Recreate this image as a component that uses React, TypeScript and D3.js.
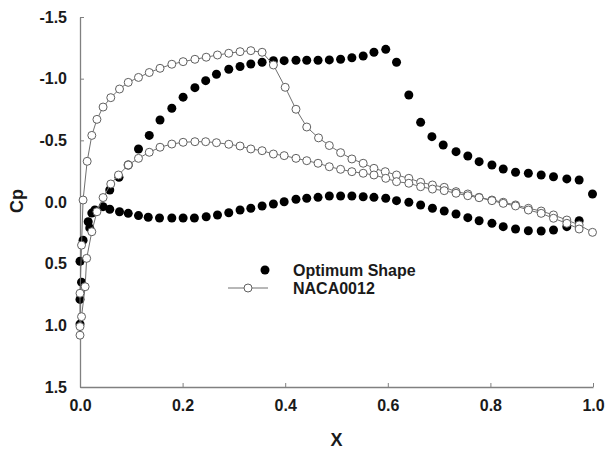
import { useEffect, useRef } from "react";
import * as d3 from "d3";

// Optimum shape, x / Cp pairs (scatter only)
const optimumX = [
  0.0, 0.0, 0.003, 0.0, 0.006, 0.016, 0.019, 0.023, 0.029, 0.045, 0.058, 0.077,
  0.094, 0.114, 0.133, 0.155, 0.179, 0.201, 0.223, 0.246, 0.268, 0.29, 0.312,
  0.333, 0.355, 0.377, 0.398, 0.421, 0.442, 0.464, 0.486, 0.508, 0.53, 0.552,
  0.573, 0.596, 0.617, 0.641, 0.664, 0.687, 0.71, 0.733, 0.756, 0.778, 0.803,
  0.825, 0.849, 0.874, 0.899, 0.923, 0.949, 0.973,
  0.058, 0.076, 0.094, 0.114, 0.135, 0.156, 0.179, 0.201, 0.224, 0.245, 0.266,
  0.29, 0.312, 0.333, 0.355, 0.377, 0.398, 0.421, 0.442, 0.464, 0.486, 0.508,
  0.53, 0.552, 0.573, 0.596, 0.617, 0.641, 0.664, 0.686, 0.708, 0.733, 0.756,
  0.778, 0.803, 0.825, 0.849, 0.874, 0.899, 0.923, 0.949, 0.973, 0.999,
];
const optimumCp = [
  0.99, 0.79, 0.65, 0.48, 0.31, 0.16, 0.21, 0.09, 0.065, 0.038, 0.059, 0.079,
  0.092, 0.11, 0.124, 0.13, 0.13, 0.13, 0.13, 0.12, 0.105, 0.087, 0.065,
  0.051, 0.032, 0.016, -0.002, -0.022, -0.03, -0.038, -0.049, -0.049, -0.049,
  -0.043, -0.038, -0.03, -0.011, 0.002, 0.024, 0.051, 0.073, 0.097, 0.127,
  0.152, 0.173, 0.2, 0.219, 0.233, 0.235, 0.227, 0.2, 0.152,
  -0.097, -0.2, -0.3, -0.43, -0.54, -0.665, -0.76, -0.85, -0.927, -0.984,
  -1.036, -1.076, -1.099, -1.119, -1.133, -1.146, -1.146, -1.149, -1.149,
  -1.149, -1.152, -1.157, -1.17, -1.184, -1.214, -1.238, -1.133, -0.868,
  -0.646, -0.53, -0.462, -0.408, -0.373, -0.327, -0.3, -0.268, -0.241, -0.233,
  -0.219, -0.205, -0.187, -0.178, -0.065,
];

// NACA0012, traced from the trailing edge over the upper surface, round the nose, back along the lower
const nacaUpperX = [
  0.0, 0.0, 0.003, 0.006, 0.014, 0.023, 0.033, 0.045, 0.06, 0.077, 0.094,
  0.114, 0.135, 0.156, 0.179, 0.201, 0.224, 0.246, 0.268, 0.29, 0.312, 0.333,
  0.355, 0.377, 0.4, 0.421, 0.442, 0.465, 0.486, 0.508, 0.53, 0.552, 0.573,
  0.595, 0.617, 0.641, 0.664, 0.687, 0.71, 0.733, 0.756, 0.778, 0.803, 0.825,
  0.849, 0.874, 0.899, 0.923, 0.949, 0.973, 0.999,
];
const nacaUpperCp = [
  1.08, 0.74, 0.35, -0.016, -0.33, -0.54, -0.67, -0.77, -0.846, -0.916, -0.97,
  -1.01, -1.05, -1.084, -1.117, -1.138, -1.157, -1.174, -1.192, -1.206,
  -1.219, -1.227, -1.214, -1.111, -0.93, -0.752, -0.608, -0.52, -0.458, -0.4,
  -0.349, -0.314, -0.273, -0.246, -0.219, -0.192, -0.16, -0.138, -0.119,
  -0.084, -0.065, -0.038, -0.016, 0.002, 0.024, 0.051, 0.073, 0.105, 0.146,
  0.186, 0.246,
];
const nacaLowerX = [
  0.0, 0.003, 0.01, 0.013, 0.023, 0.033, 0.045, 0.06, 0.075, 0.094, 0.114,
  0.135, 0.156, 0.179, 0.201, 0.224, 0.245, 0.266, 0.29, 0.312, 0.333, 0.355,
  0.377, 0.398, 0.421, 0.442, 0.464, 0.486, 0.508, 0.53, 0.552, 0.573, 0.596,
  0.617, 0.641, 0.664, 0.687, 0.71, 0.733, 0.756, 0.778, 0.803, 0.825, 0.849,
  0.874, 0.899, 0.923, 0.949, 0.973,
];
const nacaLowerCp = [
  1.01, 0.93, 0.687, 0.457, 0.241, 0.079, -0.036, -0.146, -0.219, -0.3,
  -0.354, -0.403, -0.444, -0.47, -0.484, -0.489, -0.489, -0.481, -0.468,
  -0.454, -0.43, -0.416, -0.389, -0.376, -0.354, -0.335, -0.314, -0.286,
  -0.265, -0.246, -0.233, -0.219, -0.192, -0.165, -0.152, -0.124, -0.105,
  -0.092, -0.071, -0.051, -0.035, -0.011, 0.011, 0.032, 0.065, 0.092, 0.132,
  0.173, 0.219,
];

const xTicks = [0, 0.2, 0.4, 0.6, 0.8, 1.0];
const yTicks = [-1.5, -1.0, -0.5, 0.0, 0.5, 1.0, 1.5];
const seriesNames = ["Optimum Shape", "NACA0012"];

export default function App() {
  const svgRef = useRef<SVGSVGElement>(null);

  useEffect(() => {
    const svg = d3.select(svgRef.current);
    svg.selectAll("*").remove();

    const width = 605;
    const height = 452;
    const left = 80;
    const right = 593;
    const top = 17;
    const bottom = 387;
    const font = "'Liberation Sans', Arial, sans-serif";

    const x = d3.scaleLinear().domain([0, 1]).range([left, right]);
    const y = d3.scaleLinear().domain([-1.5, 1.5]).range([top, bottom]);

    svg.append("rect").attr("width", width).attr("height", height).attr("fill", "white");

    // axes
    const xAxis = svg
      .append("g")
      .attr("transform", `translate(0, ${bottom})`)
      .call(
        d3.axisBottom(x).tickValues(xTicks).tickSizeInner(-4).tickSizeOuter(0)
          .tickPadding(14).tickFormat(d3.format(".1f"))
      );
    const yAxis = svg
      .append("g")
      .attr("transform", `translate(${left}, 0)`)
      .call(
        d3.axisLeft(y).tickValues(yTicks).tickSizeInner(-4).tickSizeOuter(0)
          .tickPadding(13).tickFormat(d3.format(".1f"))
      );
    [xAxis, yAxis].forEach((g) => {
      g.select(".domain").attr("stroke", "#808080").attr("stroke-width", 1.3);
      g.selectAll(".tick line").attr("stroke", "#808080");
      g.selectAll(".tick text")
        .attr("fill", "#1a1a1a")
        .style("font-family", font)
        .style("font-size", "16px")
        .style("font-weight", "bold");
    });
    yAxis.selectAll(".tick text").text((d: any) => d3.format(".1f")(d).replace("−", "-"));
    xAxis.selectAll(".tick text").attr("dy", "0.35em").attr("y", 18);

    svg
      .append("text")
      .attr("transform", `translate(17, 201) rotate(-90)`)
      .attr("text-anchor", "middle")
      .attr("dy", "0.35em")
      .attr("fill", "#1a1a1a")
      .style("font-family", font)
      .style("font-size", "18px")
      .style("font-weight", "bold")
      .text("Cp");
    svg
      .append("text")
      .attr("x", (left + right) / 2)
      .attr("y", 440)
      .attr("text-anchor", "middle")
      .attr("dy", "0.35em")
      .attr("fill", "#1a1a1a")
      .style("font-family", font)
      .style("font-size", "18px")
      .style("font-weight", "bold")
      .text("X");

    // optimum shape
    svg
      .append("g")
      .selectAll("circle")
      .data(optimumX.map((v, i) => [v, optimumCp[i]]))
      .join("circle")
      .attr("cx", (d) => x(d[0]))
      .attr("cy", (d) => y(d[1]))
      .attr("r", 4.5)
      .attr("fill", "black");

    // NACA0012
    const upper = nacaUpperX.map((v, i) => [v, nacaUpperCp[i]] as [number, number]);
    const lower = nacaLowerX.map((v, i) => [v, nacaLowerCp[i]] as [number, number]);
    const path = [...upper.slice().reverse(), ...lower];
    const line = d3
      .line<[number, number]>()
      .x((d) => x(d[0]))
      .y((d) => y(d[1]));
    svg
      .append("path")
      .datum(path)
      .attr("fill", "none")
      .attr("stroke", "#707070")
      .attr("stroke-width", 1)
      .attr("d", line);
    svg
      .append("g")
      .selectAll("circle")
      .data(path)
      .join("circle")
      .attr("cx", (d) => x(d[0]))
      .attr("cy", (d) => y(d[1]))
      .attr("r", 4)
      .attr("fill", "white")
      .attr("stroke", "#606060")
      .attr("stroke-width", 1);

    // legend
    const legend = svg.append("g");
    legend.append("circle").attr("cx", 265).attr("cy", 270).attr("r", 4.5).attr("fill", "black");
    legend
      .append("line")
      .attr("x1", 228).attr("x2", 268).attr("y1", 288).attr("y2", 288)
      .attr("stroke", "#707070");
    legend
      .append("circle")
      .attr("cx", 248).attr("cy", 288).attr("r", 4)
      .attr("fill", "white").attr("stroke", "#606060");
    legend
      .selectAll("text")
      .data(seriesNames)
      .join("text")
      .attr("x", 293)
      .attr("y", (_, i) => 270 + i * 18)
      .attr("dy", "0.35em")
      .attr("fill", "#1a1a1a")
      .style("font-family", font)
      .style("font-size", "16px")
      .style("font-weight", "bold")
      .text((d) => d);
  }, []);

  return (
    <svg
      ref={svgRef}
      width={605}
      height={452}
      style={{ position: "absolute", left: 0, top: 0 }}
    ></svg>
  );
}
